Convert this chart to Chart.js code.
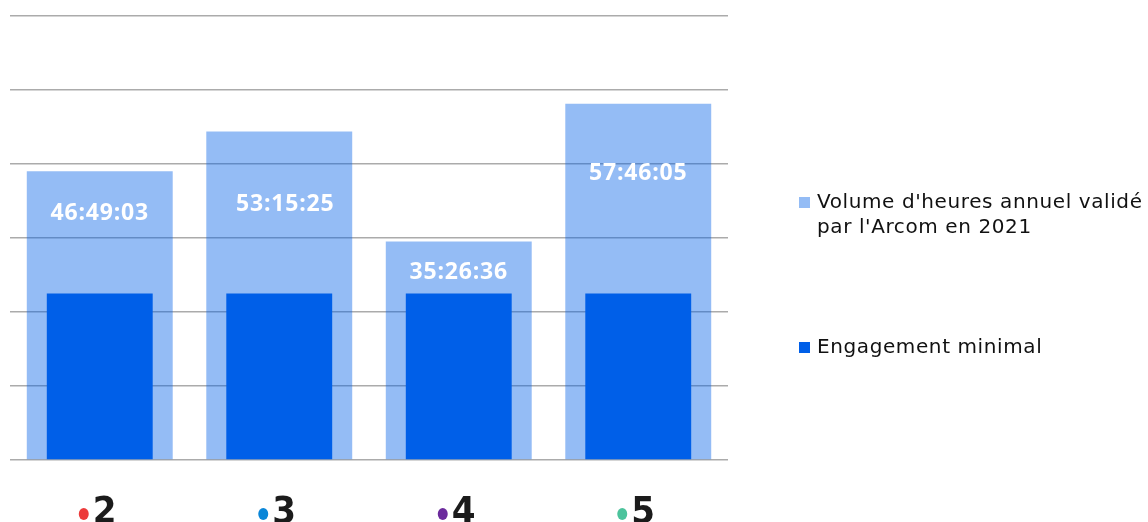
<!DOCTYPE html>
<html>
<head>
<meta charset="utf-8">
<script src="https://cdn.jsdelivr.net/npm/chart.js@4.4.1/dist/chart.umd.min.js"></script>
<style>
  html, body { margin: 0; padding: 0; background: #fff; }
  #wrap { width: 1148px; height: 522px; }
</style>
</head>
<body>
<div id="wrap"><canvas id="chart"></canvas></div>
<script>
// chaines (France 2, 3, 4, 5)
const channels = ['2', '3', '4', '5'];
const channelDots = ['#ec3b3b', '#0a86d8', '#6b2a9c', '#4cc39c'];

// heures, converties depuis hh:mm:ss
const volumeLabels = ['46:49:03', '53:15:25', '35:26:36', '57:46:05'];
const engagement = [27, 27, 27, 27];

const toHours = s => {
  const [h, m, sec] = s.split(':').map(Number);
  return h + m / 60 + sec / 3600;
};
const volume = volumeLabels.map(toHours);

const seriesNames = ["Volume d'heures annuel validé\npar l'Arcom en 2021", 'Engagement minimal'];
const seriesColors = ['rgba(0,95,232,0.42)', '#005fe8'];

// where the white value labels sit, relative to the top of each bar (px)
const labelShift = [[0, 42], [6, 73], [0, 31], [0, 70]];

const valueLabels = {
  id: 'valueLabels',
  afterDatasetsDraw(chart) {
    const ctx = chart.ctx;
    const meta = chart.getDatasetMeta(1);
    ctx.save();
    ctx.fillStyle = '#fff';
    ctx.font = 'bold 23px "Open Sans", "Noto Sans", sans-serif';
    ctx.letterSpacing = '0.8px';
    ctx.textAlign = 'center';
    ctx.textBaseline = 'middle';
    meta.data.forEach((bar, i) => {
      const [dx, dy] = labelShift[i];
      ctx.fillText(volumeLabels[i], bar.x + dx, bar.y + dy);
    });
    ctx.restore();
  }
};

const channelTicks = {
  id: 'channelTicks',
  afterDraw(chart) {
    const ctx = chart.ctx;
    const xs = chart.scales.x;
    ctx.save();
    ctx.textBaseline = 'alphabetic';
    ctx.textAlign = 'left';
    channels.forEach((c, i) => {
      const cx = xs.getPixelForValue(i);
      ctx.fillStyle = channelDots[i];
      ctx.beginPath();
      ctx.ellipse(cx - 16, 514, 5, 6, 0, 0, Math.PI * 2);
      ctx.fill();
      ctx.fillStyle = '#1b1b1b';
      ctx.font = 'bold 38px "Liberation Sans Narrow", "DejaVu Sans Condensed", sans-serif';
      ctx.fillText(c, cx - 7, 523);
    });
    ctx.restore();
  }
};

const sideLegend = {
  id: 'sideLegend',
  afterDraw(chart) {
    const ctx = chart.ctx;
    const items = [
      { text: seriesNames[0].split('\n'), color: seriesColors[0], y: 203 },
      { text: seriesNames[1].split('\n'), color: seriesColors[1], y: 348 }
    ];
    ctx.save();
    ctx.font = '20px "DejaVu Sans", Verdana, sans-serif';
    ctx.letterSpacing = '0.6px';
    ctx.textBaseline = 'middle';
    ctx.textAlign = 'left';
    items.forEach(it => {
      ctx.fillStyle = it.color;
      ctx.fillRect(799, it.y - 6, 11, 11);
      ctx.fillStyle = '#111';
      it.text.forEach((line, k) => ctx.fillText(line, 817, it.y + k * 25));
    });
    ctx.restore();
  }
};

new Chart(document.getElementById('chart'), {
  type: 'bar',
  data: {
    labels: channels,
    datasets: [
      {
        label: 'Engagement minimal',
        data: engagement,
        backgroundColor: seriesColors[1],
        grouped: false,
        order: 0,
        barPercentage: 0.59,
        categoryPercentage: 1
      },
      {
        label: "Volume d'heures annuel validé par l'Arcom en 2021",
        data: volume,
        backgroundColor: seriesColors[0],
        grouped: false,
        order: 1,
        barPercentage: 0.813,
        categoryPercentage: 1
      }
    ]
  },
  options: {
    responsive: true,
    maintainAspectRatio: false,
    animation: false,
    layout: { padding: { left: 10, right: 420, top: 16, bottom: 62 } },
    plugins: {
      legend: { display: false },
      tooltip: { enabled: false }
    },
    scales: {
      x: {
        display: false
      },
      y: {
        min: 0,
        max: 72,
        ticks: { display: false, stepSize: 12 },
        grid: { color: '#ababab', lineWidth: 1.5, drawTicks: false },
        border: { display: false }
      }
    }
  },
  plugins: [valueLabels, channelTicks, sideLegend]
});
</script>
</body>
</html>
